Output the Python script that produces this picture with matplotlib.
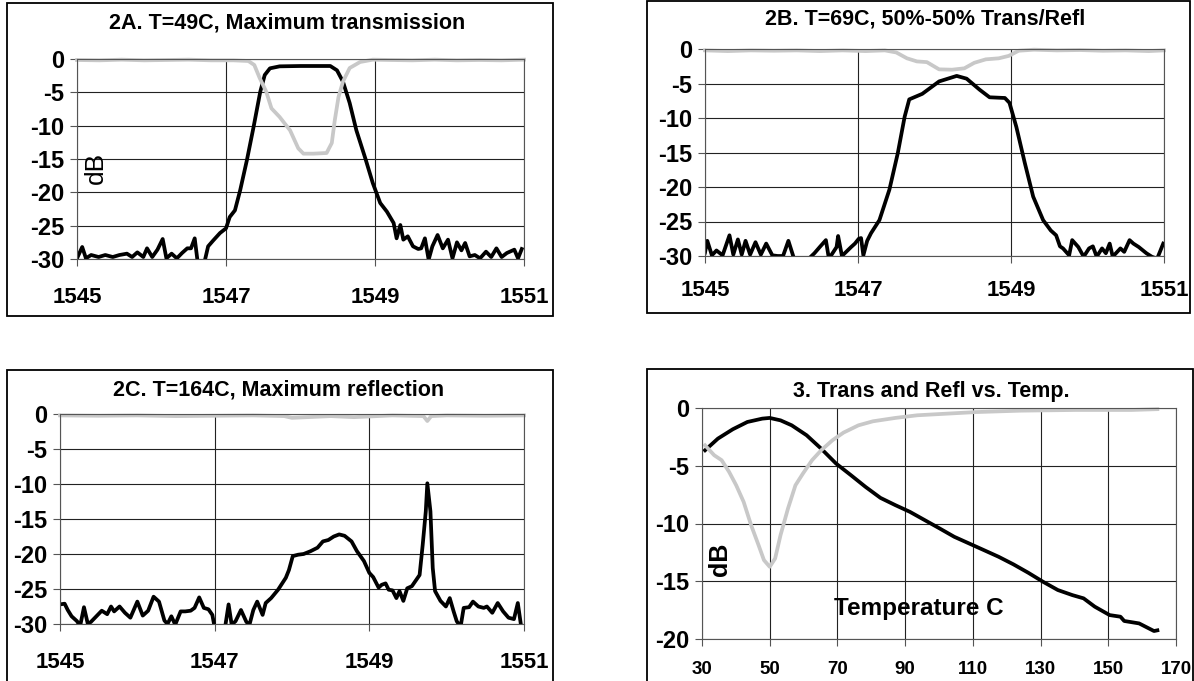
#!/usr/bin/env python
# Four Excel-style panels: grating transmission/reflection spectra and temperature sweep

import matplotlib.pyplot as plt
from matplotlib.patches import Rectangle

plt.rcParams["font.family"] = ["Liberation Sans", "DejaVu Sans"]
plt.rcParams["axes.unicode_minus"] = False

W, H = 1194, 681

# ---- data (wavelength nm, dB) ----
a_black = [(1545.00, -29.9), (1545.07, -28.2), (1545.12, -29.9), (1545.19, -29.4), (1545.29, -29.7),
           (1545.38, -29.4), (1545.48, -29.7), (1545.57, -29.4), (1545.67, -29.2), (1545.74, -29.7),
           (1545.81, -29.0), (1545.89, -29.7), (1545.94, -28.4), (1546.01, -29.7), (1546.08, -28.6),
           (1546.15, -27.0), (1546.20, -29.9), (1546.27, -29.2), (1546.34, -29.9), (1546.41, -29.1),
           (1546.48, -28.4), (1546.53, -28.4), (1546.58, -26.9), (1546.62, -30.5), (1546.70, -31.0),
           (1546.76, -28.1), (1546.83, -27.2), (1546.92, -26.1), (1547.00, -25.4), (1547.05, -23.7),
           (1547.12, -22.7), (1547.19, -19.7), (1547.28, -15.2), (1547.37, -10.2), (1547.46, -4.9),
           (1547.52, -2.4), (1547.59, -1.4), (1547.72, -1.1), (1548.00, -1.05), (1548.40, -1.05),
           (1548.49, -1.7), (1548.57, -3.4), (1548.66, -6.6), (1548.75, -10.7), (1548.87, -14.9),
           (1548.97, -18.6), (1549.07, -21.6), (1549.16, -22.9), (1549.25, -24.6), (1549.29, -26.9),
           (1549.34, -24.9), (1549.38, -27.1), (1549.44, -26.6), (1549.51, -28.1), (1549.58, -28.5),
           (1549.62, -28.4), (1549.67, -26.9), (1549.72, -30.1), (1549.77, -28.1), (1549.84, -26.4),
           (1549.91, -28.4), (1549.98, -27.1), (1550.04, -29.9), (1550.10, -27.5), (1550.16, -28.7),
           (1550.21, -27.6), (1550.27, -29.6), (1550.34, -29.4), (1550.41, -29.9), (1550.49, -28.9),
           (1550.56, -29.7), (1550.63, -28.4), (1550.70, -29.7), (1550.77, -29.1), (1550.87, -28.6),
           (1550.92, -29.9), (1550.97, -28.5)]
a_gray = [(1545.0, -0.15), (1545.3, -0.2), (1545.6, -0.1), (1545.9, -0.2), (1546.2, -0.15),
          (1546.5, -0.1), (1546.8, -0.2), (1547.1, -0.2), (1547.3, -0.3), (1547.38, -0.9),
          (1547.45, -2.8), (1547.54, -4.9), (1547.61, -7.4), (1547.72, -8.7), (1547.86, -10.7),
          (1547.97, -13.4), (1548.04, -14.2), (1548.17, -14.2), (1548.35, -14.1), (1548.42, -12.6),
          (1548.46, -9.2), (1548.51, -5.7), (1548.57, -3.4), (1548.66, -1.35), (1548.80, -0.45),
          (1548.97, -0.1), (1549.2, -0.15), (1549.5, -0.2), (1549.8, -0.1), (1550.1, -0.2),
          (1550.4, -0.15), (1550.7, -0.2), (1551.0, -0.1)]

b_black = [(1545.00, -29.5), (1545.03, -27.8), (1545.09, -29.9), (1545.15, -29.2), (1545.23, -29.9),
           (1545.32, -27.0), (1545.37, -29.8), (1545.43, -27.6), (1545.48, -29.8), (1545.53, -27.8),
           (1545.59, -29.8), (1545.66, -28.0), (1545.73, -29.8), (1545.80, -28.2), (1545.88, -29.9),
           (1545.95, -30.0), (1546.02, -30.0), (1546.09, -27.8), (1546.17, -30.6), (1546.30, -31.0),
           (1546.43, -29.6), (1546.50, -28.7), (1546.58, -27.7), (1546.62, -30.4), (1546.72, -28.7),
           (1546.74, -27.1), (1546.79, -30.0), (1546.91, -28.7), (1546.96, -28.2), (1547.01, -27.5),
           (1547.04, -27.4), (1547.07, -29.9), (1547.12, -27.8), (1547.17, -26.7), (1547.28, -24.8),
           (1547.41, -20.4), (1547.52, -15.1), (1547.61, -9.8), (1547.67, -7.3), (1547.84, -6.5),
           (1548.06, -4.7), (1548.29, -3.9), (1548.42, -4.3), (1548.59, -5.9), (1548.72, -7.0),
           (1548.92, -7.1), (1548.98, -7.8), (1549.07, -11.3), (1549.18, -16.5), (1549.29, -21.4),
           (1549.42, -24.8), (1549.52, -26.3), (1549.59, -27.0), (1549.64, -28.6), (1549.68, -28.9),
           (1549.76, -29.9), (1549.80, -27.7), (1549.88, -28.7), (1549.95, -30.1), (1550.02, -28.9),
           (1550.07, -28.6), (1550.12, -30.1), (1550.19, -28.9), (1550.24, -29.6), (1550.29, -28.2),
           (1550.33, -30.1), (1550.43, -28.9), (1550.48, -29.4), (1550.55, -27.7), (1550.60, -28.2),
           (1550.67, -28.7), (1550.77, -29.6), (1550.84, -30.1), (1550.91, -30.4), (1550.99, -28.2)]
b_gray = [(1545.0, -0.2), (1545.3, -0.3), (1545.6, -0.2), (1545.9, -0.25), (1546.2, -0.2),
          (1546.5, -0.3), (1546.8, -0.2), (1547.1, -0.3), (1547.35, -0.2), (1547.5, -0.5),
          (1547.64, -1.35), (1547.77, -1.8), (1547.90, -1.9), (1548.06, -2.95), (1548.23, -3.0),
          (1548.39, -2.8), (1548.52, -2.0), (1548.67, -1.5), (1548.84, -1.35), (1548.97, -1.0),
          (1549.10, -0.25), (1549.3, -0.1), (1549.6, -0.2), (1549.9, -0.15), (1550.2, -0.25),
          (1550.5, -0.2), (1550.8, -0.3), (1551.0, -0.2)]

c_black = [(1545.00, -27.2), (1545.06, -27.1), (1545.10, -28.0), (1545.15, -28.9), (1545.22, -29.6),
           (1545.26, -30.3), (1545.31, -27.6), (1545.36, -30.0), (1545.40, -29.7), (1545.47, -28.9),
           (1545.54, -28.1), (1545.61, -28.6), (1545.66, -27.5), (1545.70, -28.2), (1545.77, -27.5),
           (1545.84, -28.4), (1545.91, -29.1), (1546.00, -26.8), (1546.07, -28.8), (1546.14, -28.1),
           (1546.21, -26.1), (1546.28, -26.8), (1546.35, -29.5), (1546.39, -30.0), (1546.44, -28.9),
           (1546.49, -30.1), (1546.56, -28.2), (1546.62, -28.2), (1546.69, -28.1), (1546.74, -27.7),
           (1546.80, -26.2), (1546.86, -27.7), (1546.92, -27.9), (1546.97, -28.7), (1547.00, -30.5),
           (1547.13, -30.8), (1547.18, -27.2), (1547.22, -30.1), (1547.27, -29.6), (1547.34, -28.0),
           (1547.41, -29.7), (1547.45, -30.1), (1547.50, -28.0), (1547.55, -26.8), (1547.62, -28.7),
           (1547.66, -27.0), (1547.73, -26.3), (1547.82, -25.1), (1547.92, -23.4), (1547.96, -22.3),
           (1548.01, -20.3), (1548.08, -20.1), (1548.15, -20.0), (1548.24, -19.6), (1548.33, -19.1),
           (1548.40, -18.2), (1548.47, -18.0), (1548.54, -17.5), (1548.61, -17.2), (1548.68, -17.4),
           (1548.77, -18.2), (1548.84, -19.6), (1548.93, -21.0), (1549.00, -22.7), (1549.05, -23.3),
           (1549.12, -24.8), (1549.16, -24.4), (1549.21, -24.2), (1549.25, -25.1), (1549.30, -25.2),
           (1549.35, -26.3), (1549.39, -25.3), (1549.44, -26.7), (1549.49, -24.9), (1549.55, -24.6),
           (1549.60, -23.8), (1549.65, -23.0), (1549.69, -18.7), (1549.73, -13.9), (1549.75, -9.9),
           (1549.79, -13.9), (1549.82, -22.0), (1549.85, -25.3), (1549.92, -26.7), (1549.99, -27.5),
           (1550.04, -26.3), (1550.09, -28.2), (1550.13, -29.6), (1550.18, -30.4), (1550.22, -27.7),
           (1550.29, -27.6), (1550.34, -26.8), (1550.41, -27.5), (1550.48, -27.7), (1550.52, -27.5),
           (1550.59, -28.4), (1550.66, -27.0), (1550.73, -28.2), (1550.80, -29.1), (1550.87, -29.3),
           (1550.92, -27.0), (1550.96, -30.1)]
c_gray = [(1545.0, -0.2), (1545.5, -0.25), (1546.0, -0.2), (1546.5, -0.3), (1547.0, -0.25),
          (1547.5, -0.2), (1547.9, -0.3), (1548.0, -0.55), (1548.2, -0.45), (1548.5, -0.3),
          (1548.8, -0.45), (1549.0, -0.35), (1549.3, -0.2), (1549.7, -0.3), (1549.75, -1.0),
          (1549.8, -0.3), (1550.0, -0.2), (1550.5, -0.25), (1551.0, -0.2)]

# temperature sweep (deg C, dB)
d_black = [(30.9, -3.66), (34.7, -2.65), (39.1, -1.84), (43.4, -1.21), (47.8, -0.92), (50.0, -0.86),
           (53.2, -1.07), (56.5, -1.50), (60.9, -2.36), (65.2, -3.52), (69.6, -4.81), (74.0, -5.82),
           (78.3, -6.83), (82.7, -7.78), (87.1, -8.41), (91.4, -8.99), (95.8, -9.71), (100.2, -10.43),
           (104.5, -11.15), (108.9, -11.73), (113.3, -12.31), (117.6, -12.88), (122.0, -13.54),
           (126.4, -14.27), (130.7, -15.04), (135.1, -15.76), (139.4, -16.2), (142.7, -16.48),
           (146.0, -17.2), (150.4, -17.93), (153.6, -18.07), (154.7, -18.44), (159.1, -18.65),
           (163.5, -19.31), (164.5, -19.25)]
d_gray = [(30.9, -3.23), (33.6, -4.09), (35.8, -4.52), (38.0, -5.53), (40.1, -6.69), (42.3, -8.13),
          (44.5, -10.14), (46.7, -11.87), (48.3, -13.17), (50.0, -13.75), (51.6, -13.03), (53.2, -11.0),
          (55.4, -8.7), (57.6, -6.69), (59.8, -5.68), (62.5, -4.52), (65.2, -3.66), (68.5, -2.8),
          (71.8, -2.13), (76.2, -1.5), (80.5, -1.15), (87.1, -0.86), (93.6, -0.63), (102.3, -0.49),
          (111.1, -0.35), (124.2, -0.23), (140.5, -0.17), (156.9, -0.17), (164.5, -0.1)]

wl_ticks = [1545, 1547, 1549, 1551]
db_ticks_30 = [0, -5, -10, -15, -20, -25, -30]
temp_ticks = [30, 50, 70, 90, 110, 130, 150, 170]
db_ticks_20 = [0, -5, -10, -15, -20]

titles = ["2A. T=49C, Maximum transmission", "2B. T=69C, 50%-50% Trans/Refl",
          "2C. T=164C, Maximum reflection", "3. Trans and Refl vs. Temp."]

fig = plt.figure(figsize=(W / 100, H / 100), dpi=100)


def frame(l, t, r, b):
    fig.add_artist(Rectangle((l / W, 1 - b / H), (r - l) / W, (b - t) / H,
                             transform=fig.transFigure, fill=False, ec="black", lw=1.3))


def panel(l, t, r, b, black, gray, xlim, ylim, xt, yt, xsize, xpad):
    ax = fig.add_axes([l / W, 1 - b / H, (r - l) / W, (b - t) / H])
    bx, by = zip(*black)
    gx, gy = zip(*gray)
    ax.plot(bx, by, color="black", lw=2.7, solid_joinstyle="round")
    ax.plot(gx, gy, color="#c8c8c8", lw=2.7, clip_on=False, solid_joinstyle="round")
    ax.set_xlim(*xlim)
    ax.set_ylim(*ylim)
    ax.set_xticks(xt)
    ax.set_yticks(yt)
    ax.grid(True, color="#222222", lw=0.8)
    ax.set_axisbelow(True)
    for s in ax.spines.values():
        s.set_color("#555555")
        s.set_linewidth(0.8)
    ax.tick_params(axis="both", direction="out", length=5, width=0.8, color="#555555")
    ax.tick_params(axis="y", labelsize=17, pad=4)
    ax.tick_params(axis="x", labelsize=xsize, pad=xpad)
    for lab in ax.get_xticklabels() + ax.get_yticklabels():
        lab.set_fontweight("bold")
    return ax


wl = (1545, 1551)

frame(7, 3, 553, 316)
panel(77, 59, 524, 259, a_black, a_gray, wl, (-30, 0), wl_ticks, db_ticks_30, 16, 15)
fig.text(287 / W, 1 - 23 / H, titles[0], ha="center", va="center", fontsize=15.5, fontweight="bold")
fig.text(96 / W, 1 - 168 / H, "dB", ha="center", va="center", rotation=90, fontsize=19)

frame(647, 1, 1190, 313)
panel(705, 49, 1164, 256, b_black, b_gray, wl, (-30, 0), wl_ticks, db_ticks_30, 16, 12)
fig.text(925 / W, 1 - 19 / H, titles[1], ha="center", va="center", fontsize=15.5, fontweight="bold")

frame(7, 370, 553, 690)
panel(60, 414, 524, 624, c_black, c_gray, wl, (-30, 0), wl_ticks, db_ticks_30, 16, 15)
fig.text(279 / W, 1 - 390 / H, titles[2], ha="center", va="center", fontsize=15.5, fontweight="bold")

frame(647, 369, 1193, 690)
panel(702, 408, 1176, 639, d_black, d_gray, (30, 170), (-20, 0), temp_ticks, db_ticks_20, 13.5, 11)
fig.text(931 / W, 1 - 391 / H, titles[3], ha="center", va="center", fontsize=15.5, fontweight="bold")
fig.text(720 / W, 1 - 559 / H, "dB", ha="center", va="center", rotation=90, fontsize=18,
         fontweight="bold")
fig.text(919 / W, 1 - 608 / H, "Temperature C", ha="center", va="center", fontsize=17.5,
         fontweight="bold")

fig.savefig("out.png", dpi=100)
